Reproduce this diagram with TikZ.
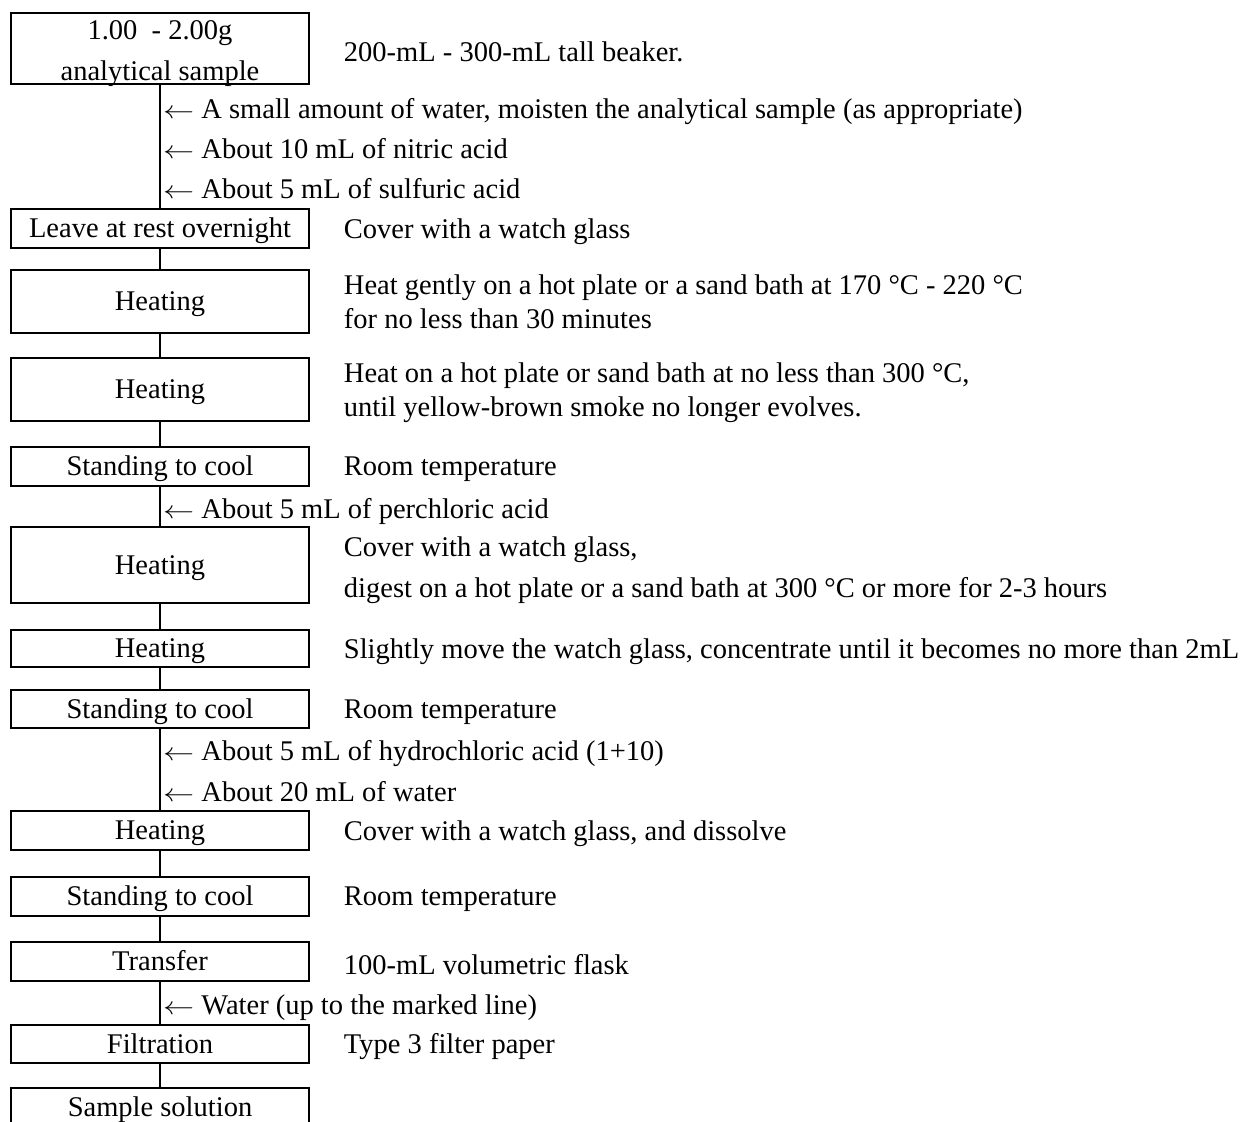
\documentclass[tikz,border=0pt]{standalone}
\usepackage{graphicx}
\usepackage{fontspec}
\setmainfont{Liberation Serif}
\usetikzlibrary{positioning}

\newcommand{\addarrow}{\scalebox{1.25}[1]{$\leftarrow$}}

\tikzset{
  firstbox/.style={draw,line width=1.5pt,minimum width=298pt,inner sep=0pt,align=center},
  stepbox/.style={firstbox,text height=22pt,text depth=4pt},
  note/.style={anchor=west,inner sep=0pt,align=left,yshift=-3pt},
  addnote/.style={anchor=base west,inner sep=0pt},
  link/.style={line width=1.5pt},
}

\begin{document}
\begin{tikzpicture}[x=1pt,y=-1pt,font=\fontsize{28.5}{33.5}\selectfont]
  \useasboundingbox (0,0) rectangle (1243,1122);
  % steps
  \node[firstbox,minimum height=71pt] (b1) at (160,48.5) {\rule{0pt}{22.5pt}1.00\ \ - 2.00g\\[7pt]\raisebox{0pt}[\height][0pt]{analytical sample}};
  \node[stepbox,minimum height=39pt] (b2) at (160,228.5) {Leave at rest overnight};
  \node[stepbox,minimum height=63pt] (b3) at (160,301.5) {Heating};
  \node[stepbox,minimum height=63pt] (b4) at (160,389.5) {Heating};
  \node[stepbox,minimum height=39pt] (b5) at (160,466.5) {Standing to cool};
  \node[stepbox,minimum height=76pt] (b6) at (160,565) {Heating};
  \node[stepbox,minimum height=37pt] (b7) at (160,648.5) {Heating};
  \node[stepbox,minimum height=38pt] (b8) at (160,709) {Standing to cool};
  \node[stepbox,minimum height=39pt] (b9) at (160,830.5) {Heating};
  \node[stepbox,minimum height=39pt] (b10) at (160,896.5) {Standing to cool};
  \node[stepbox,minimum height=39pt] (b11) at (160,961.5) {Transfer};
  \node[stepbox,minimum height=38pt] (b12) at (160,1044) {Filtration};
  \node[stepbox,minimum height=39pt] (b13) at (160,1107.5) {Sample solution};
  \foreach \a/\b in {b1/b2,b2/b3,b3/b4,b4/b5,b5/b6,b6/b7,b7/b8,b8/b9,b9/b10,b10/b11,b11/b12,b12/b13}
    \draw[link] (\a.south) -- (\b.north);

  % conditions
  \node[note,right=34pt of b1] (n1) {200-mL - 300-mL tall beaker.};
  \node[note,right=34pt of b2] (n2) {Cover with a watch glass};
  \node[note,right=34pt of b3,yshift=3pt] (n3) {Heat gently on a hot plate or a sand bath at 170 °C - 220 °C\\for no less than 30 minutes};
  \node[note,right=34pt of b4] (n4) {Heat on a hot plate or sand bath at no less than 300 °C,\\until yellow-brown smoke no longer evolves.};
  \node[note,right=34pt of b5] (n5) {Room temperature};
  \node[note,right=34pt of b6,yshift=-2pt] (n6) {Cover with a watch glass,\\[8pt]digest on a hot plate or a sand bath at 300 °C or more for 2-3 hours};
  \node[note,right=34pt of b7] (n7) {Slightly move the watch glass, concentrate until it becomes no more than 2mL};
  \node[note,right=34pt of b8] (n8) {Room temperature};
  \node[note,right=34pt of b9] (n9) {Cover with a watch glass, and dissolve};
  \node[note,right=34pt of b10] (n10) {Room temperature};
  \node[note,right=34pt of b11] (n11) {100-mL volumetric flask};
  \node[note,right=34pt of b12] (n12) {Type 3 filter paper};

  % additions (baselines)
  \node[addnote] (a1) at (163,118) {\addarrow\ A small amount of water, moisten the analytical sample (as appropriate)};
  \node[addnote] (a2) at (163,158) {\addarrow\ About 10 mL of nitric acid};
  \node[addnote] (a3) at (163,198) {\addarrow\ About 5 mL of sulfuric acid};
  \node[addnote] (a4) at (163,518) {\addarrow\ About 5 mL of perchloric acid};
  \node[addnote] (a5) at (163,760) {\addarrow\ About 5 mL of hydrochloric acid (1+10)};
  \node[addnote] (a6) at (163,801) {\addarrow\ About 20 mL of water};
  \node[addnote] (a7) at (163,1014) {\addarrow\ Water (up to the marked line)};
\end{tikzpicture}
\end{document}
